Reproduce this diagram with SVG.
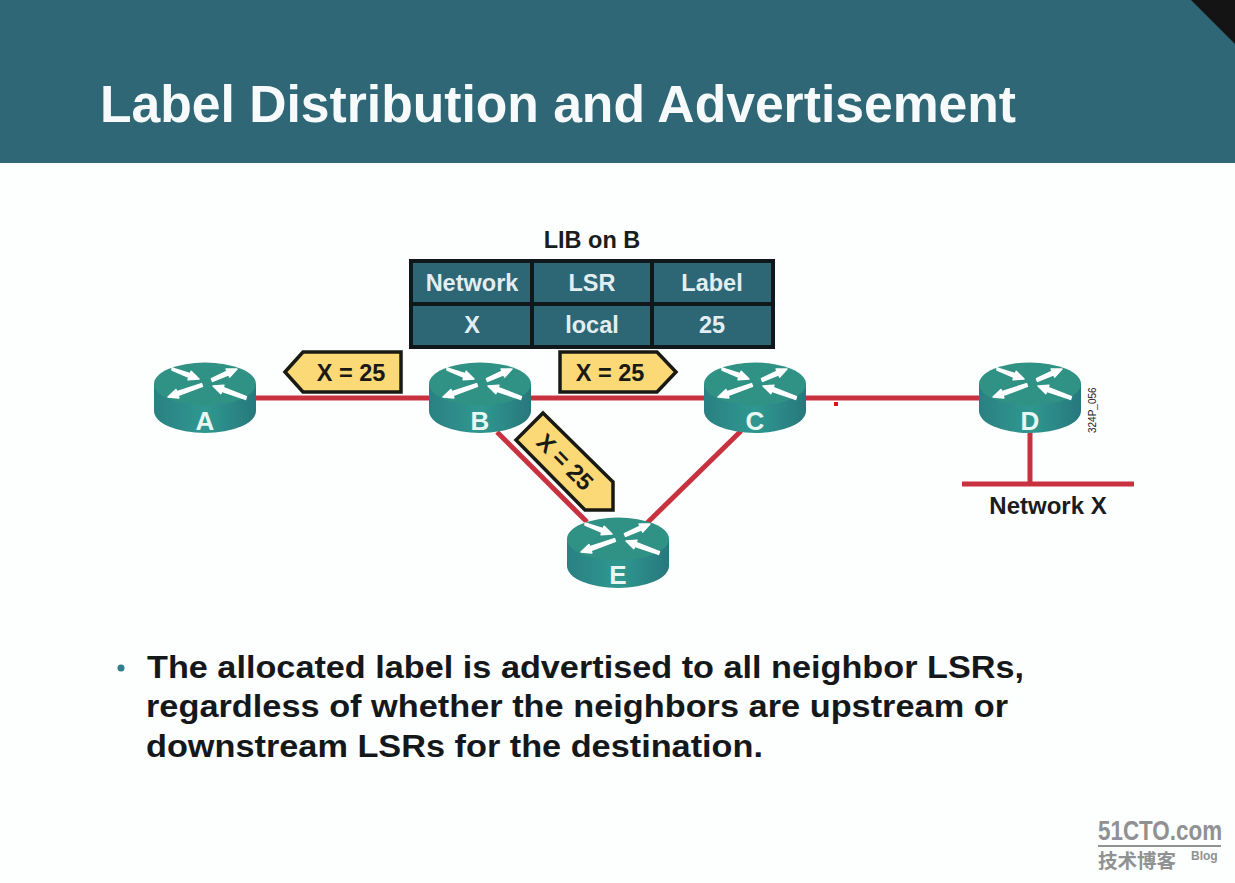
<svg xmlns="http://www.w3.org/2000/svg" width="1235" height="883" viewBox="0 0 1235 883">
<style>
text{font-family:"Liberation Sans",Arial,sans-serif;font-weight:700}
.link{stroke:#c8323f;stroke-width:5;fill:none}
.tag{fill:#fbd977;stroke:#1a1a14;stroke-width:3.500;stroke-linejoin:miter}
.tagt{font-size:23.500px;fill:#1a1a14;text-anchor:middle}
.rl{font-size:26px;fill:#e6f7f4;text-anchor:middle}
.cell{fill:#2d6674;stroke:#10181c;stroke-width:4}
.ct{font-size:23.500px;fill:#e2eef0;text-anchor:middle}
.body{font-size:32px;fill:#15181a}
</style>
<defs>
<linearGradient id="side" x1="0" x2="1" y1="0" y2="0"><stop offset="0" stop-color="#2a8082"/><stop offset=".5" stop-color="#2f9890"/><stop offset="1" stop-color="#27787c"/></linearGradient>
<g id="router">
<path d="M-51 0V27A51 22 0 0 0 51 27V0Z" fill="url(#side)"/>
<ellipse rx="51" ry="21.500" fill="#2f9285"/>
<g fill="#fff" stroke="#fff" stroke-width="1.500" stroke-linejoin="round">
<polygon points="-33,-16 -14.700,-10.400 -13.800,-12.700 -6,-5 -17,-4.300 -16.100,-6.600 -33,-14"/>
<polygon points="7.600,-2.600 23.700,-9.200 24.700,-6.900 32,-15 21.100,-15.100 22.100,-12.800 6.400,-5.400"/>
<polygon points="-2.500,2.400 -27,11.600 -26.100,13.900 -37,13 -29.100,5.500 -28.200,7.800 -3.500,-.4"/>
<polygon points="41.500,12.600 18.100,3.500 18.900,1.200 8,2 15.900,9.600 16.700,7.300 40.500,15.400"/>
</g>
</g>
</defs>
<rect width="1235" height="883" fill="#fdfefe"/>
<g id="header">
<rect width="1235" height="163" fill="#2f6776"/>
<polygon points="1191,0 1235,0 1235,44" fill="#141414"/>
<text x="100" y="122" font-size="51" fill="#f6fafa" textLength="916" lengthAdjust="spacingAndGlyphs">Label Distribution and Advertisement</text>
</g>
<g id="connectors">
<line class="link" x1="250" y1="398" x2="985" y2="398"/>
<line class="link" x1="497" y1="432" x2="587" y2="522"/>
<line class="link" x1="741" y1="431" x2="647" y2="523"/>
<line class="link" x1="1030" y1="430" x2="1030" y2="484"/>
<line class="link" x1="962" y1="484" x2="1134" y2="484"/>
</g>
<rect x="834" y="402" width="4" height="4" fill="#e0101a"/>
<g id="lib-table">
<text x="592" y="248" font-size="23.500px" fill="#1a1c1e" text-anchor="middle">LIB on B</text>
<rect class="cell" x="411" y="261" width="121" height="43"/>
<rect class="cell" x="532" y="261" width="120" height="43"/>
<rect class="cell" x="652" y="261" width="121" height="43"/>
<rect class="cell" x="411" y="304" width="121" height="43"/>
<rect class="cell" x="532" y="304" width="120" height="43"/>
<rect class="cell" x="652" y="304" width="121" height="43"/>
<text class="ct" x="472" y="291">Network</text>
<text class="ct" x="592" y="291">LSR</text>
<text class="ct" x="712" y="291">Label</text>
<text class="ct" x="472" y="333">X</text>
<text class="ct" x="592" y="333">local</text>
<text class="ct" x="712" y="333">25</text>
</g>
<g id="node-a"><use href="#router" x="205" y="384"/><text class="rl" x="205" y="430">A</text></g>
<g id="node-b"><use href="#router" x="480" y="384"/><text class="rl" x="480" y="430">B</text></g>
<g id="node-c"><use href="#router" x="755" y="384"/><text class="rl" x="755" y="430">C</text></g>
<g id="node-d"><use href="#router" x="1030" y="384"/><text class="rl" x="1030" y="430">D</text></g>
<g id="node-e"><use href="#router" x="618" y="539"/><text class="rl" x="618" y="584">E</text></g>
<g id="tag-left"><polygon class="tag" points="285,372 303,352 401,352 401,392 303,392"/><text class="tagt" x="351" y="381">X = 25</text></g>
<g id="tag-right"><polygon class="tag" points="560,352 657,352 676,372 657,392 560,392"/><text class="tagt" x="610" y="381">X = 25</text></g>
<g id="tag-diag"><polygon class="tag" points="543,413 613,482 613,510 585,510 516,440"/><text class="tagt" transform="translate(565 462) rotate(45)" y="8">X = 25</text></g>
<g id="network-x"><text x="1048" y="514" font-size="24" fill="#1a1c1e" text-anchor="middle">Network X</text>
<text transform="translate(1096 433) rotate(-90)" font-size="10" fill="#222" style="font-weight:400">324P_056</text></g>
<g id="bullets">
<circle cx="121" cy="668" r="3.500" fill="#2f7f8c"/>
<text class="body" x="147" y="678" textLength="877" lengthAdjust="spacingAndGlyphs">The allocated label is advertised to all neighbor LSRs,</text>
<text class="body" x="146" y="717" textLength="862" lengthAdjust="spacingAndGlyphs">regardless of whether the neighbors are upstream or</text>
<text class="body" x="146" y="757" textLength="617" lengthAdjust="spacingAndGlyphs">downstream LSRs for the destination.</text>
</g>
<g id="watermark" fill="#8f9192">
<text transform="translate(1098 840) scale(.83 1)" font-size="27">51CTO.com</text>
<rect x="1098" y="845" width="123" height="2"/>
<text x="1098" y="868" font-size="19.500" style="font-family:'Noto Sans CJK SC',sans-serif">技术博客</text>
<text x="1191" y="860" font-size="12">Blog</text>
</g>
</svg>
